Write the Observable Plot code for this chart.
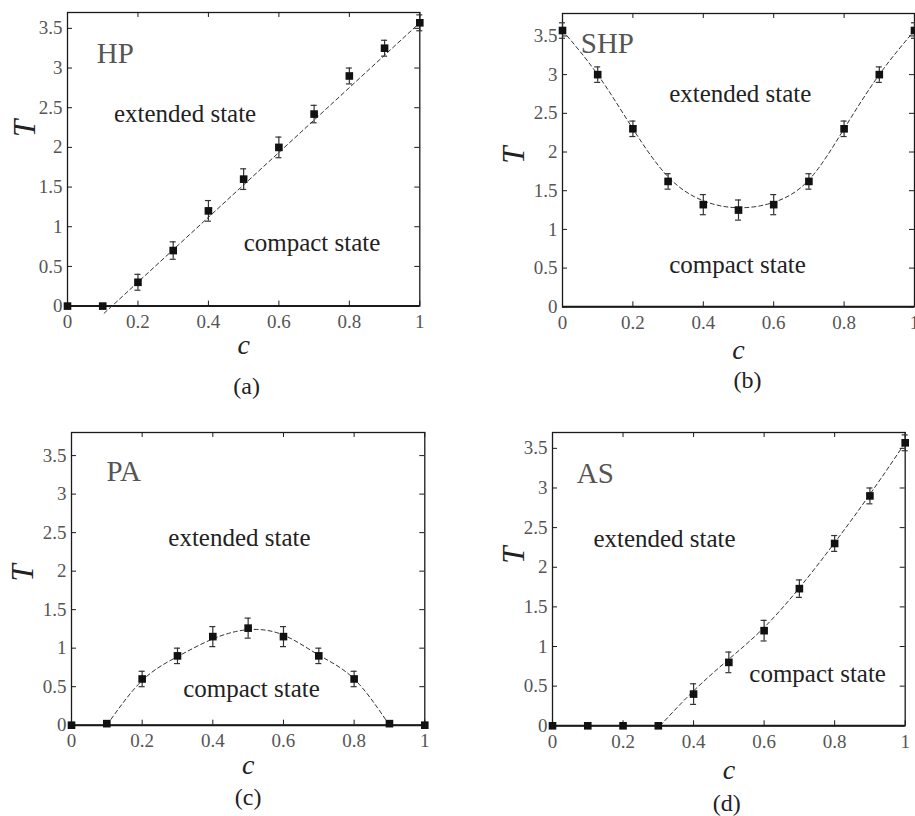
<!DOCTYPE html>
<html><head><meta charset="utf-8">
<script src="https://cdn.jsdelivr.net/npm/d3@7"></script>
<script src="https://cdn.jsdelivr.net/npm/@observablehq/plot@0.6"></script>
<style>
html,body{margin:0;padding:0;background:#fff;overflow:hidden}
#fig{position:relative;width:915px;height:816px;overflow:hidden;background:#fff}
#fig > div{position:absolute;overflow:visible}
#fig svg{max-width:none !important;display:block}
#fig svg text{font-family:'Liberation Serif','Times New Roman',serif !important}
</style></head><body><div id="fig"></div>
<script>
// ---- data ----
const c = [0, 0.1, 0.2, 0.3, 0.4, 0.5, 0.6, 0.7, 0.8, 0.9, 1];
const hpT   = [0, 0, 0.30, 0.70, 1.20, 1.60, 2.00, 2.42, 2.90, 3.25, 3.57];
const hpErr = [0, 0, 0.10, 0.11, 0.13, 0.13, 0.13, 0.11, 0.10, 0.10, 0.10];
const shpT   = [3.57, 3.00, 2.30, 1.62, 1.32, 1.25, 1.32, 1.62, 2.30, 3.00, 3.57];
const shpErr = [0.10, 0.10, 0.10, 0.10, 0.13, 0.13, 0.13, 0.10, 0.10, 0.10, 0.10];
const paT   = [0, 0.02, 0.60, 0.90, 1.15, 1.26, 1.15, 0.90, 0.60, 0.02, 0];
const paErr = [0, 0, 0.10, 0.10, 0.13, 0.13, 0.13, 0.10, 0.10, 0, 0];
const asT   = [0, 0, 0, 0, 0.40, 0.80, 1.20, 1.73, 2.30, 2.90, 3.57];
const asErr = [0, 0, 0, 0, 0.13, 0.13, 0.13, 0.11, 0.10, 0.10, 0.10];

// dashed guide curves
const hpFitC = [0.104, 1.0];
const hpFitT = [-0.09, 3.57];
const shpFitC = [0, 0.1, 0.2, 0.3, 0.4, 0.5, 0.6, 0.7, 0.8, 0.9, 1];
const shpFitT = [3.57, 3.0, 2.3, 1.68, 1.37, 1.28, 1.35, 1.64, 2.3, 3.0, 3.57];
const paFitC = [0.1, 0.2, 0.3, 0.4, 0.5, 0.6, 0.7, 0.8, 0.9];
const paFitT = [0, 0.58, 0.89, 1.12, 1.24, 1.17, 0.91, 0.60, 0];
const asFitC = [0.305, 0.4, 0.5, 0.6, 0.7, 0.8, 0.9, 1.0];
const asFitT = [0, 0.44, 0.84, 1.24, 1.74, 2.31, 2.92, 3.57];

// ticks
const xTicks = [0, 0.2, 0.4, 0.6, 0.8, 1];
const xTickLabels = ["0", "0.2", "0.4", "0.6", "0.8", "1"];
const yTicks = [0, 0.5, 1, 1.5, 2, 2.5, 3, 3.5];
const yTickLabels = ["0", "0.5", "1", "1.5", "2", "2.5", "3", "3.5"];

// text
const panelNames = ["HP", "SHP", "PA", "AS"];
const captions = ["(a)", "(b)", "(c)", "(d)"];
const regionLabels = ["extended state", "compact state"];
const xLabel = "c", yLabel = "T";
// annotation anchors (c, T)
const nameC = [0.083, 0.052, 0.099, 0.069];
const nameT = [3.06, 3.28, 3.17, 3.06];
const extC = [0.132, 0.303, 0.274, 0.116];
const extT = [2.32, 2.64, 2.32, 2.25];
const cmpC = [0.50, 0.303, 0.316, 0.558];
const cmpT = [0.69, 0.44, 0.36, 0.55];

// ---- layout ----
const ML = 70, MT = 12, MR = 14, MB = 100;
const FONT = "'Liberation Serif', 'Times New Roman', serif";
const layouts = [
  {box: [66.7, 11.7, 419, 305.3], yMax: 3.70, tDx: -42, tDy: -31, cDy: 48, capDy: 88, capDx: 3},
  {box: [562.3, 12.7, 914.3, 306], yMax: 3.79, tDx: -48, tDy: -5, cDy: 52, capDy: 81, capDx: 9},
  {box: [71, 432.3, 424.3, 725], yMax: 3.80, tDx: -48, tDy: -6, cDy: 49, capDy: 80, capDx: 0},
  {box: [552.3, 431.7, 905, 725], yMax: 3.70, tDx: -38, tDy: -24, cDy: 53, capDy: 85, capDx: -2}
];
const series = [
  [hpT, hpErr, hpFitC, hpFitT],
  [shpT, shpErr, shpFitC, shpFitT],
  [paT, paErr, paFitC, paFitT],
  [asT, asErr, asFitC, asFitT]
];

const fig = document.getElementById("fig");
layouts.forEach((L, k) => {
  const [l, t, r, b] = L.box;
  const W = r - l, H = b - t;
  const [T, E, FC, FT] = series[k];
  const pts = c.map((x, i) => ({c: x, T: T[i], e: E[i]}));
  const bars = pts.filter(d => d.e > 0);
  const fit = FC.map((x, i) => ({c: x, T: FT[i]}));
  const ink = "#1a1a1a";
  const plot = Plot.plot({
    width: W + ML + MR, height: H + MT + MB,
    marginLeft: ML, marginRight: MR, marginTop: MT, marginBottom: MB,
    x: {domain: [0, 1]},
    y: {domain: [0, L.yMax]},
    style: {fontFamily: FONT, fontSize: "19px", background: "#fff", color: "#555", overflow: "visible"},
    marks: [
      Plot.axisX({ticks: xTicks, tickFormat: d => xTickLabels[xTicks.indexOf(d)], tickSize: 0, tickPadding: 8.5, fontSize: 19, fill: "#555", label: null}),
      Plot.axisY({ticks: yTicks, tickFormat: d => yTickLabels[yTicks.indexOf(d)], tickSize: 0, tickPadding: 5, fontSize: 19, fill: "#555", label: null}),
      Plot.tickX(xTicks, {x: d => d, insetTop: H - 5, stroke: ink}),
      Plot.tickX(xTicks, {x: d => d, insetBottom: H - 5, stroke: ink}),
      Plot.tickY(yTicks, {y: d => d, insetRight: W - 5, stroke: ink}),
      Plot.tickY(yTicks, {y: d => d, insetLeft: W - 5, stroke: ink}),
      Plot.frame({stroke: ink, strokeWidth: 1.3}),
      Plot.ruleY([0], {stroke: ink, strokeWidth: 2}),
      Plot.line(fit, {x: "c", y: "T", curve: "natural", stroke: "#333", strokeWidth: 1, strokeDasharray: "4,3"}),
      Plot.ruleX(bars, {x: "c", y1: d => d.T - d.e, y2: d => d.T + d.e, stroke: "#333", strokeWidth: 1.2}),
      Plot.ruleY(bars, {y: d => d.T - d.e, x1: "c", x2: "c", insetLeft: -3, insetRight: -3, stroke: "#333", strokeWidth: 1.2}),
      Plot.ruleY(bars, {y: d => d.T + d.e, x1: "c", x2: "c", insetLeft: -3, insetRight: -3, stroke: "#333", strokeWidth: 1.2}),
      Plot.dot(pts, {x: "c", y: "T", symbol: "square", r: 4.3, fill: "#111", stroke: "none"}),
      Plot.text([panelNames[k]], {x: () => nameC[k], y: () => nameT[k], text: d => d, textAnchor: "start", lineAnchor: "bottom", fontSize: 29, fill: "#555"}),
      Plot.text([regionLabels[0]], {x: () => extC[k], y: () => extT[k], text: d => d, textAnchor: "start", lineAnchor: "bottom", fontSize: 25, fill: "#222"}),
      Plot.text([regionLabels[1]], {x: () => cmpC[k], y: () => cmpT[k], text: d => d, textAnchor: "start", lineAnchor: "bottom", fontSize: 25, fill: "#222"}),
      Plot.text([xLabel], {frameAnchor: "bottom", dy: L.cDy, text: d => d, lineAnchor: "bottom", fontSize: 28, fontStyle: "italic", fill: "#222"}),
      Plot.text([yLabel], {frameAnchor: "left", dx: L.tDx, dy: L.tDy, text: d => d, rotate: -90, lineAnchor: "middle", textAnchor: "middle", fontSize: 31, fontStyle: "italic", fill: "#222"}),
      Plot.text([captions[k]], {frameAnchor: "bottom", dx: L.capDx, dy: L.capDy, text: d => d, lineAnchor: "bottom", fontSize: 24, fill: "#222"})
    ]
  });
  const holder = document.createElement("div");
  holder.style.left = (l - ML) + "px";
  holder.style.top = (t - MT) + "px";
  holder.style.width = (W + ML + MR) + "px";
  holder.style.height = (H + MT + MB) + "px";
  holder.appendChild(plot);
  fig.appendChild(holder);
});
</script>
</body></html>
